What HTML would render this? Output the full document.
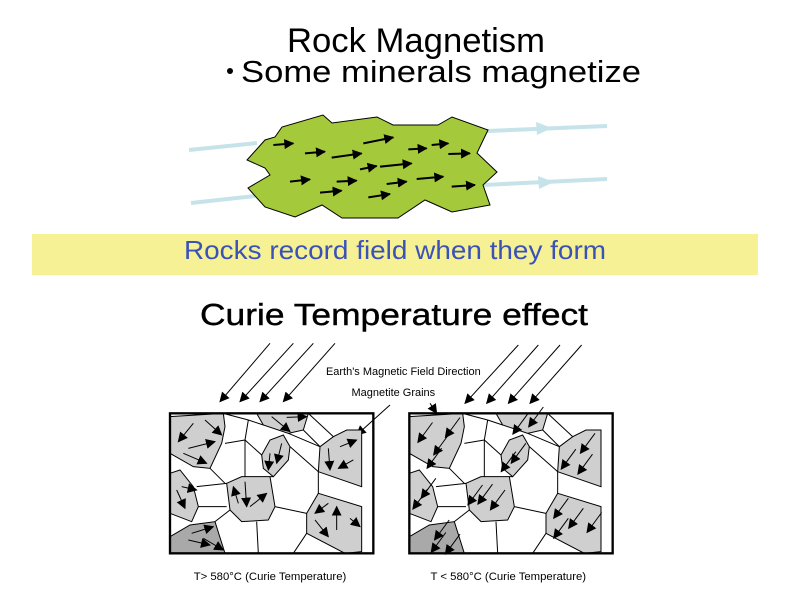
<!DOCTYPE html>
<html><head><meta charset="utf-8"><style>
html,body{margin:0;padding:0;background:#fff}
svg{display:block;font-family:"Liberation Sans",sans-serif}
</style></head><body>
<svg id="s" width="797" height="598" viewBox="0 0 797 598">
<defs>
<marker id="ah" viewBox="0 0 10 10" refX="9" refY="5" markerWidth="10" markerHeight="10" markerUnits="userSpaceOnUse" orient="auto"><path d="M0,0 L10,5 L0,10 z" fill="#000"/></marker>
<marker id="ahb" viewBox="0 0 10 10" refX="9" refY="5" markerWidth="30" markerHeight="30" markerUnits="userSpaceOnUse" orient="auto"><path d="M0,0 L10,5 L0,10 z" fill="#000"/></marker>
</defs>
<text x="287" y="52" font-size="34" textLength="258" lengthAdjust="spacingAndGlyphs">Rock Magnetism</text>
<circle cx="230" cy="71" r="3" fill="#000"/>
<text x="241" y="82" font-size="31" textLength="400" lengthAdjust="spacingAndGlyphs">Some minerals magnetize</text>

<g>
<g stroke="#c6e3ea" stroke-width="4" fill="#c6e3ea">
<line x1="189" y1="150" x2="257" y2="143"/>
<line x1="191" y1="203" x2="255" y2="196"/>
<line x1="487" y1="131" x2="607" y2="126"/>
<line x1="483" y1="185" x2="607" y2="179"/>
<path d="M536,122 L552,128 L537,135z" stroke="none"/>
<path d="M538,176 L554,182 L539,189z" stroke="none"/>
</g>
<polygon fill="#a4ca3c" stroke="#000" stroke-width="1" points="247,160 265,140 275,137 282,127 323,115 332,123 377,117 393,125 438,125 452,117 488,130 477,153 497,172 483,185 490,205 452,212 425,200 398,218 342,218 322,205 295,217 265,207 248,188 270,175 265,168"/>
<g id="greenArrows" stroke="#000" stroke-width="2"></g>
</g>

<rect x="32" y="234" width="726" height="41" fill="#f6f195"/>
<text x="184" y="259" font-size="26" fill="#3a52b8" textLength="422" lengthAdjust="spacingAndGlyphs">Rocks record field when they form</text>
<text x="200" y="325" font-size="31" textLength="388" lengthAdjust="spacingAndGlyphs" stroke="#000" stroke-width="0.4">Curie Temperature effect</text>

<g transform="translate(160,340) scale(0.33333)">
<g id="fieldArrows" stroke="#000" stroke-width="3"></g>
<text x="730" y="105" font-size="33" text-anchor="middle">Earth's Magnetic Field Direction</text>
<text x="700" y="168" font-size="33" text-anchor="middle">Magnetite Grains</text>
<line x1="690" y1="195" x2="590" y2="285" stroke="#000" stroke-width="3" marker-end="url(#ahb)"/>
<line x1="810" y1="190" x2="830" y2="220" stroke="#000" stroke-width="3" marker-end="url(#ahb)"/>
<g id="boxL"></g>
<g id="boxR" transform="translate(718,0)"></g>
<text x="330" y="720" font-size="34" text-anchor="middle">T&gt; 580°C (Curie Temperature)</text>
<text x="1045" y="720" font-size="34" text-anchor="middle">T &lt; 580°C (Curie Temperature)</text>
</g>
</svg>
<script>
var NS="http://www.w3.org/2000/svg";
function mk(p,tag,a){var e=document.createElementNS(NS,tag);for(var k in a)e.setAttribute(k,a[k]);p.appendChild(e);return e;}
var ga=[[265,105,325,100],[360,130,420,125],[440,143,530,130],[535,100,625,82],[670,118,725,115],[740,105,790,100],[790,132,855,130],[525,178,575,168],[585,170,680,160],[315,215,375,208],[455,215,515,212],[405,248,470,242],[550,262,615,252],[605,222,665,215],[695,207,775,200],[800,230,870,225]];
var g=document.getElementById('greenArrows');
ga.forEach(function(a){var l=mk(g,'line',{x1:a[0]/3+185,y1:a[1]/3+110,x2:a[2]/3+185,y2:a[3]/3+110,'marker-end':'url(#ah)'});

});
var fa=[[330,10,180,185],[400,10,240,185],[460,10,300,185],[525,10,370,185],[1075,15,915,190],[1135,15,980,190],[1200,15,1045,190],[1265,15,1110,190]];
var f=document.getElementById('fieldArrows');
fa.forEach(function(a){var l=mk(f,'line',{x1:a[0],y1:a[1],x2:a[2],y2:a[3],'marker-end':'url(#ahb)'});

});
var grains=[
[[30,230],[190,220],[195,260],[185,310],[150,385],[100,380],[30,340]],
[[290,220],[445,220],[430,270],[385,280],[310,255]],
[[305,345],[330,300],[370,285],[390,320],[385,360],[340,410],[310,385]],
[[480,320],[520,290],[560,270],[605,270],[605,440],[475,395]],
[[30,400],[60,390],[100,440],[115,500],[95,545],[30,520]],
[[200,430],[245,410],[330,410],[345,500],[325,540],[245,545],[210,510]],
[[440,520],[475,460],[605,500],[605,635],[555,640],[440,580]],
[[30,590],[90,555],[165,545],[195,640],[30,640]]];
var lines=[[150,385,195,430],[110,440,200,430],[195,310,255,300],[255,300,305,345],[255,300,255,410],[265,240,255,300],[190,220,265,240],[265,240,310,255],[390,320,475,395],[385,280,480,320],[430,270,480,320],[445,220,520,290],[345,500,440,520],[475,395,475,460],[290,545,295,640],[165,545,210,510],[400,640,440,580],[340,410,330,410],[115,500,200,500]];
var arL=[[100,250,55,305],[135,240,185,285],[85,325,165,305],[70,340,140,370],[335,230,390,275],[380,232,440,230],[365,310,350,370],[330,340,325,390],[505,325,510,390],[540,320,590,300],[580,360,535,385],[65,440,110,450],[50,450,75,505],[235,490,220,440],[255,425,260,500],[270,500,320,460],[505,490,465,520],[530,570,530,500],[465,540,505,590],[570,535,600,560],[95,580,160,560],[85,600,150,615],[130,595,190,630]];
function drawBox(id,arrows,right){
 var b=document.getElementById(id);
 grains.forEach(function(gr,i){var p=mk(b,'polygon',{points:gr.map(function(q){return q.join(',')}).join(' '),fill:i==7?'#a9a9a9':'#cfcfcf',stroke:'#000','stroke-width':3});
 
 });
 lines.forEach(function(l){mk(b,'line',{x1:l[0],y1:l[1],x2:l[2],y2:l[3],stroke:'#000','stroke-width':3});});
 var r=mk(b,'rect',{x:30,y:220,width:610,height:420,fill:'none',stroke:'#000','stroke-width':7});
 
 
 arrows.forEach(function(a){var x1=a[0],y1=a[1],x2=a[2],y2=a[3];
  if(right){var mx=(x1+x2)/2,my=(y1+y2)/2;x1=mx+22;y1=my-30;x2=mx-22;y2=my+30;}
  var l=mk(b,'line',{x1:x1,y1:y1,x2:x2,y2:y2,stroke:'#000','stroke-width':3,'marker-end':'url(#ahb)'});
  
  });
}
drawBox('boxL',arL,false);
drawBox('boxR',arL,true);
</script>
</body></html>
